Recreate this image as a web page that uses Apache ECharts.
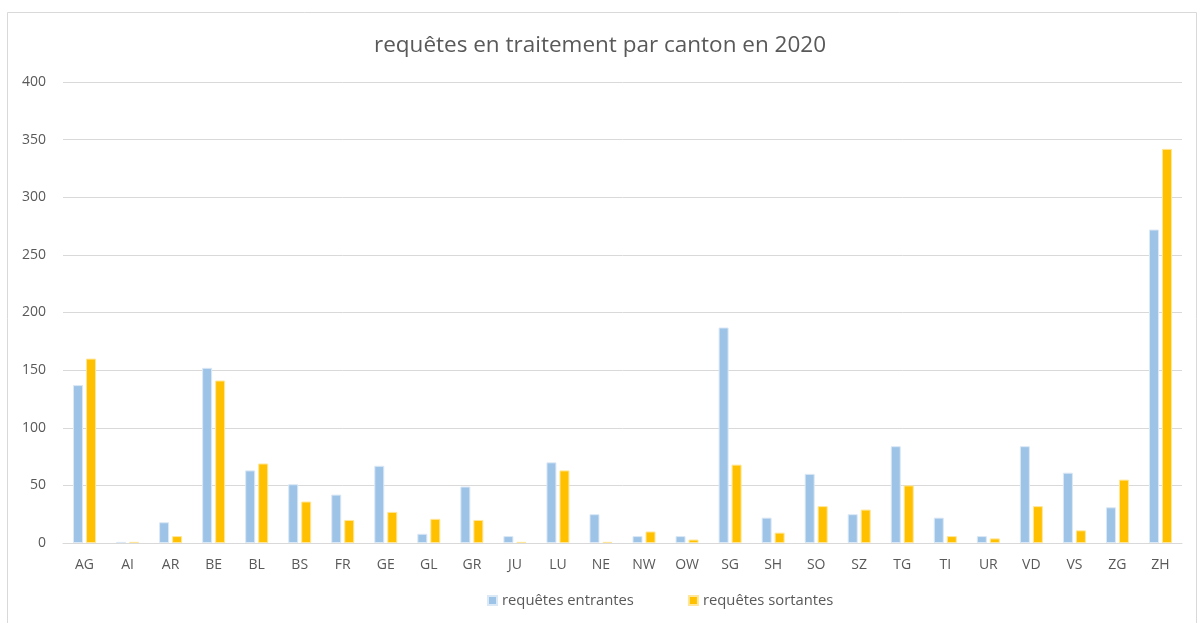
<!DOCTYPE html>
<html><head><meta charset="utf-8">
<script src="https://cdn.jsdelivr.net/npm/echarts@6/dist/echarts.min.js"></script>
<style>html,body{margin:0;padding:0;background:#fff}#c{width:1200px;height:623px}</style>
</head><body><div id="c"></div>
<script>
const categories = ["AG","AI","AR","BE","BL","BS","FR","GE","GL","GR","JU","LU","NE","NW","OW","SG","SH","SO","SZ","TG","TI","UR","VD","VS","ZG","ZH"];
const entrantes = [137,1,18,152,63,51,42,67,8,49,6,70,25,6,6,187,22,60,25,84,22,6,84,61,31,272];
const sortantes = [160,1,6,141,69,36,20,27,21,20,1,63,1,10,3,68,9,32,29,50,6,4,32,11,55,342];
const seriesNames = ["requêtes entrantes","requêtes sortantes"];
const titleText = "requêtes en traitement par canton en 2020";
const FONT = "'Open Sans', 'Liberation Sans', sans-serif";
const chart = echarts.init(document.getElementById('c'), null, {renderer:'canvas'});
chart.setOption({
  animation:false,
  backgroundColor:'#fff',
  title:{text:titleText,left:'center',top:29,textStyle:{fontFamily:FONT,fontSize:22.5,fontWeight:'normal',color:'#595959'}},
  graphic:[{type:'rect',shape:{x:7.5,y:12.5,width:1189,height:620},style:{fill:'none',stroke:'#d9d9d9',lineWidth:1},silent:true}],
  legend:{bottom:10,left:482,itemWidth:9,itemHeight:9,itemGap:54,icon:'rect',
    textStyle:{fontFamily:FONT,fontSize:14.8,color:'#595959'},data:seriesNames},
  grid:{left:63,right:18,top:82,bottom:80},
  xAxis:{type:'category',data:categories,
    axisLine:{lineStyle:{color:'#d9d9d9'}},axisTick:{show:false},
    axisLabel:{fontFamily:FONT,fontSize:14,color:'#595959',margin:15}},
  yAxis:{type:'value',min:0,max:400,interval:50,
    axisLine:{show:false},axisTick:{show:false},
    splitLine:{lineStyle:{color:'#d9d9d9',width:1}},
    axisLabel:{fontFamily:FONT,fontSize:14,color:'#595959',margin:17}},
  series:[
    {name:seriesNames[0],type:'bar',data:entrantes,barWidth:10,barGap:'30%',
      itemStyle:{color:'#9dc3e6',borderColor:'#dbe8f5',borderWidth:1}},
    {name:seriesNames[1],type:'bar',data:sortantes,barWidth:10,barGap:'30%',
      itemStyle:{color:'#ffc000',borderColor:'#ffe699',borderWidth:1}}
  ]
});
</script></body></html>
